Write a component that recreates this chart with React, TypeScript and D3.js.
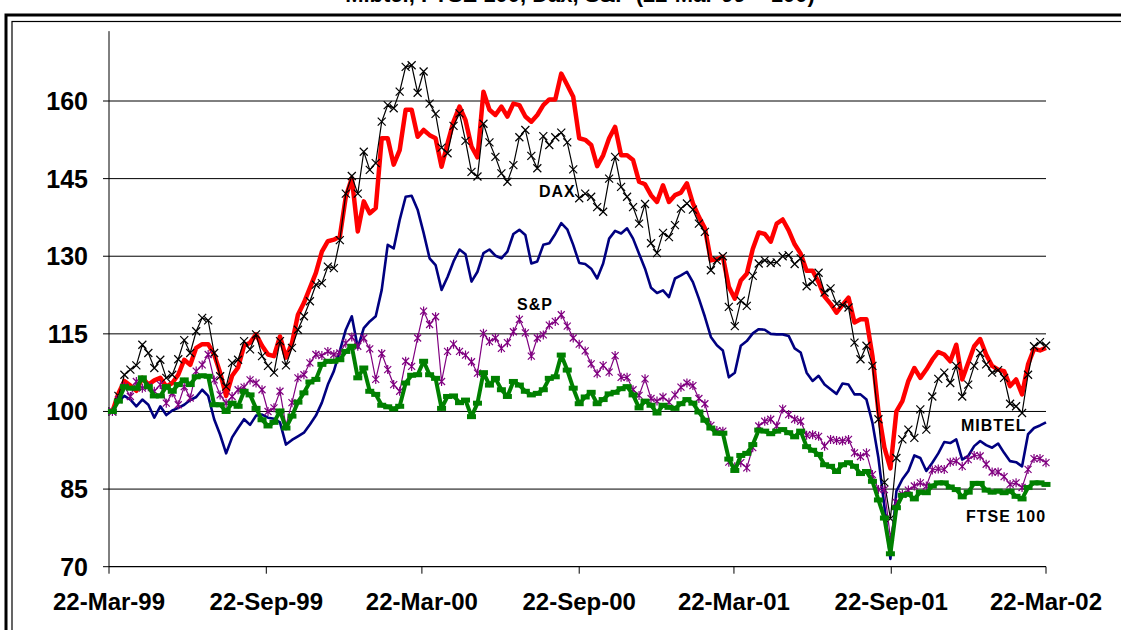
import * as d3 from "d3";

// weekly closes, rebased 22-Mar-99 = 100 (first Friday after the base date)
const firstWeek = new Date(1999, 2, 26);

const tickDates = [
  new Date(1999, 2, 22),
  new Date(1999, 8, 22),
  new Date(2000, 2, 22),
  new Date(2000, 8, 22),
  new Date(2001, 2, 22),
  new Date(2001, 8, 22),
  new Date(2002, 2, 22),
];
const tickLabels = ["22-Mar-99", "22-Sep-99", "22-Mar-00", "22-Sep-00", "22-Mar-01", "22-Sep-01", "22-Mar-02"];
const yTicks = [70, 85, 100, 115, 130, 145, 160];

// red, no label in the picture
const cac = [
  100, 103.5, 105.9, 105.0, 104.0, 106.5, 105.2, 106.0, 106.5, 104.8, 105.5, 107.1, 110.0, 109.0, 112.3, 113.0, 113.0, 111.0, 107.5, 103.0, 106.9, 108.5, 112.7, 113.3, 114.9, 112.7, 111.0,
  110.7, 114.5, 110.4, 113.2, 118.7, 121.0, 123.9, 126.8, 130.9, 132.9, 133.2, 133.8, 141.5, 145.1, 134.8, 140.6, 138.3, 139.3, 152.8, 152.8, 147.7, 150.5, 158.3, 158.3, 153.1, 154.4,
  153.4, 152.8, 147.3, 151.8, 156.0, 158.9, 156.3, 151.2, 149.1, 161.8, 158.3, 157.3, 158.9, 157.0, 159.5, 159.2, 157.0, 156.0, 157.3, 159.2, 160.3, 160.3, 165.3, 163.1, 160.8, 152.8,
  152.5, 151.5, 147.4, 149.5, 152.8, 155.0, 149.5, 149.5, 148.6, 144.4, 143.9, 141.8, 140.5, 143.7, 140.5, 141.8, 142.3, 144.1, 140.2, 137.6, 135.4, 129.2, 129.4, 129.9, 124.1, 121.8,
  125.3, 126.6, 131.4, 134.6, 134.3, 132.8, 136.3, 137.1, 135.0, 132.3, 130.5, 127.2, 127.2, 125.0, 122.2, 120.8, 119.1, 120.6, 122.0, 117.2, 117.8, 117.8, 110.7, 100.0, 93.0, 89.0,
  100.0, 102.0, 105.9, 108.4, 106.5, 108.1, 110.0, 111.5, 111.0, 109.7, 112.9, 106.2, 109.4, 112.6, 114.0, 111.0, 108.8, 108.1, 107.8, 104.9, 106.2, 103.3, 109.1, 112.1, 111.8, 112.3,
];

const dax = [
  100, 103.0, 107.1, 108.1, 108.9, 112.9, 111.3, 108.4, 110.0, 106.5, 107.1, 110.1, 113.8, 111.3, 115.5, 118.1, 117.6, 111.3, 106.8, 104.8, 109.4, 110.0, 113.6, 112.0, 114.9, 110.7, 108.8,
  107.5, 113.6, 108.9, 112.3, 115.8, 118.4, 121.3, 124.5, 124.8, 128.0, 127.7, 133.1, 142.1, 145.5, 142.1, 150.2, 146.7, 148.0, 156.0, 159.2, 158.6, 161.8, 166.6, 166.9, 161.6, 165.7,
  159.5, 157.5, 151.0, 149.9, 155.2, 157.6, 152.3, 146.3, 145.4, 155.6, 152.0, 149.2, 146.0, 144.4, 147.6, 153.0, 154.4, 149.4, 147.0, 153.2, 151.5, 153.0, 153.9, 152.0, 146.8, 141.2,
  142.1, 141.5, 139.5, 138.6, 145.0, 149.2, 143.4, 141.5, 139.5, 136.3, 140.1, 132.5, 130.6, 134.5, 133.7, 136.0, 139.2, 140.2, 139.0, 136.3, 134.7, 127.3, 129.2, 130.0, 120.2, 116.5,
  121.4, 120.4, 126.2, 128.6, 129.2, 128.7, 128.8, 130.0, 130.2, 128.5, 129.6, 124.2, 125.0, 126.8, 123.0, 123.8, 120.8, 120.6, 120.1, 113.3, 110.1, 112.7, 108.8, 98.5, 86.3, 79.3,
  91.0, 94.6, 96.5, 94.9, 100.4, 96.5, 102.9, 106.3, 107.5, 105.5, 108.8, 102.9, 105.2, 108.8, 111.3, 109.1, 107.5, 108.0, 106.5, 101.5, 101.0, 99.7, 107.1, 112.6, 113.4, 112.7,
];

const mibtel = [
  100, 102.0, 103.0, 102.3, 101.0, 102.3, 101.3, 98.8, 101.0, 99.3, 100.2, 100.7, 101.3, 102.2, 102.8, 104.2, 103.0, 98.5, 95.5, 91.9, 95.0, 96.8, 98.5, 97.4, 99.2, 99.4, 98.8,
  98.6, 97.9, 93.6, 94.5, 95.2, 95.9, 97.5, 99.2, 101.7, 105.2, 107.8, 111.7, 115.8, 118.4, 112.3, 116.1, 117.4, 118.4, 123.5, 132.2, 131.5, 137.0, 141.5, 141.7, 139.0, 134.5,
  129.6, 128.3, 123.5, 126.0, 129.0, 131.3, 130.4, 125.1, 127.0, 130.6, 131.3, 130.1, 129.6, 130.9, 134.3, 135.1, 134.1, 128.6, 129.0, 132.2, 132.5, 134.3, 136.4, 135.2, 132.2, 128.7,
  128.5, 127.6, 125.7, 128.6, 133.4, 134.9, 134.4, 135.4, 133.4, 130.5, 127.6, 123.9, 122.9, 123.4, 122.1, 125.7, 126.3, 127.0, 125.0, 121.8, 118.3, 114.4, 112.8, 111.8, 106.6, 107.5,
  112.7, 113.6, 115.1, 115.9, 115.8, 115.0, 114.9, 114.9, 114.6, 112.2, 111.4, 107.5, 105.9, 106.9, 105.2, 104.3, 103.4, 105.4, 105.2, 103.3, 103.3, 102.3, 97.8, 91.0, 81.6, 71.5,
  84.6, 86.9, 88.5, 91.5, 91.0, 88.5, 90.1, 91.9, 94.1, 93.9, 94.6, 90.7, 91.4, 93.3, 94.3, 93.5, 93.0, 93.8, 92.0, 90.4, 90.2, 89.4, 95.6, 96.8, 97.3, 97.9,
];

const sp = [
  100, 102.3, 104.8, 102.9, 105.8, 104.5, 104.8, 103.9, 105.2, 101.6, 103.6, 101.3, 104.8, 102.6, 107.8, 109.0, 111.0, 106.1, 103.2, 101.6, 102.9, 104.2, 104.7, 106.1, 105.5, 104.2, 100.0,
  100.7, 103.9, 97.2, 101.7, 106.5, 107.1, 109.4, 111.0, 110.8, 111.6, 111.0, 111.3, 113.2, 114.4, 112.6, 114.2, 112.1, 106.2, 111.2, 108.1, 105.2, 103.9, 109.7, 108.7, 114.2, 119.4,
  116.8, 118.3, 105.8, 111.6, 113.0, 111.6, 110.9, 109.6, 107.4, 115.1, 113.5, 114.2, 112.2, 113.3, 115.4, 117.8, 115.2, 110.7, 114.2, 114.8, 116.7, 117.4, 118.7, 116.5, 114.2, 113.0,
  111.7, 109.2, 107.3, 108.9, 107.6, 110.8, 106.6, 106.6, 104.2, 103.1, 106.3, 102.5, 102.0, 102.8, 101.8, 103.2, 104.7, 105.5, 105.0, 102.5, 101.5, 97.3, 96.3, 96.2, 90.2, 89.3,
  90.1, 89.1, 93.0, 97.2, 98.1, 98.5, 97.2, 100.5, 99.4, 98.5, 98.1, 95.4, 95.5, 95.2, 93.3, 94.6, 94.4, 94.3, 94.6, 92.0, 91.3, 92.0, 87.8, 84.9, 84.9, 75.6,
  82.4, 84.0, 84.8, 85.6, 86.2, 85.6, 88.7, 88.9, 88.8, 90.2, 90.4, 89.4, 90.7, 91.5, 91.4, 89.8, 88.3, 88.3, 87.4, 85.9, 86.2, 85.3, 88.8, 90.9, 90.9, 90.1,
];

const ftse = [
  100, 102.0, 104.8, 104.5, 104.5, 106.5, 104.8, 103.0, 103.0, 104.8, 103.9, 105.2, 106.1, 105.2, 106.7, 106.9, 106.8, 101.3, 101.3, 100.0, 101.6, 101.0, 103.9, 103.2, 100.6, 98.4, 97.2,
  97.9, 100.1, 96.8, 99.1, 101.8, 103.6, 105.7, 106.2, 109.1, 109.7, 109.7, 110.0, 111.6, 112.6, 106.5, 108.4, 103.9, 103.3, 101.2, 100.9, 100.5, 101.0, 105.5, 107.0, 107.1, 109.7,
  107.1, 106.4, 100.6, 102.9, 103.0, 101.7, 102.2, 99.0, 101.6, 107.5, 105.1, 106.4, 104.2, 102.9, 105.8, 105.1, 103.9, 103.2, 103.5, 104.2, 106.4, 106.7, 110.9, 108.0, 104.5, 101.5,
  102.8, 103.7, 101.5, 102.3, 103.4, 103.7, 104.4, 104.8, 103.2, 100.7, 102.0, 101.2, 99.7, 101.2, 100.8, 100.6, 101.5, 102.3, 101.6, 99.9, 98.3, 96.8, 95.8, 95.8, 90.8, 88.6,
  91.5, 91.9, 93.6, 96.4, 96.2, 95.7, 96.2, 96.5, 95.9, 95.1, 96.2, 93.2, 92.5, 91.7, 89.7, 89.4, 88.4, 89.7, 90.1, 89.4, 88.0, 88.4, 86.5, 82.9, 79.4, 72.5,
  81.4, 83.8, 84.0, 83.1, 84.4, 84.3, 85.6, 86.2, 86.2, 85.4, 84.9, 83.5, 84.4, 86.1, 86.1, 84.8, 84.4, 84.6, 84.3, 84.6, 83.6, 83.1, 85.3, 86.2, 86.2, 85.9,
];

const WIDTH = 1121;
const HEIGHT = 630;
const plot = { left: 109, right: 1046, top: 101, bottom: 566.7 };

const xScale = d3.scaleTime().domain([tickDates[0], tickDates[tickDates.length - 1]]).range([plot.left, plot.right]);
const yScale = d3.scaleLinear().domain([70, 160]).range([plot.bottom, plot.top]);

const weekDate = (i: number) => d3.timeDay.offset(firstWeek, i * 7);

const lineGen = d3
  .line<number>()
  .x((_, i) => xScale(weekDate(i)))
  .y((d) => yScale(d));

const fontBold = "'Liberation Sans', Arial, sans-serif";
const fontNarrow = "'Liberation Sans Narrow', 'Arial Narrow', 'Liberation Sans', sans-serif";

function Markers({ values, kind, color }: { values: number[]; kind: "x" | "star" | "dash"; color: string }) {
  return (
    <g>
      {values.map((v, i) => {
        const cx = xScale(weekDate(i));
        const cy = yScale(v);
        if (kind === "dash") {
          return <rect key={i} x={cx - 4.5} y={cy - 2.5} width={9} height={5} fill={color} />;
        }
        const d = kind === "x" ? "M-4,-4L4,4M-4,4L4,-4" : "M-3.5,-3.5L3.5,3.5M-3.5,3.5L3.5,-3.5M0,-4.5L0,4.5";
        return <path key={i} d={d} transform={`translate(${cx},${cy})`} stroke={color} strokeWidth={1.2} fill="none" />;
      })}
    </g>
  );
}

export default function App() {
  const labels = [
    { text: "DAX", x: 539, y: 197 },
    { text: "S&P", x: 517, y: 310 },
    { text: "MIBTEL", x: 961, y: 431 },
    { text: "FTSE 100", x: 966, y: 522 },
  ];

  return (
    <svg
      width={WIDTH}
      height={HEIGHT}
      style={{ position: "absolute", left: 0, top: 0, background: "#fff" }}
    >
      <rect width={WIDTH} height={HEIGHT} fill="#fff" />

      {/* title, cut off by the top of the picture */}
      <text x={580} y={2} textAnchor="middle" fontFamily={fontBold} fontWeight="bold" fontSize={22}>
        Mibtel, FTSE 100, Dax, S&amp;P (22-Mar-99 = 100)
      </text>

      {/* double frame */}
      <rect x={6} y={15} width={1300} height={800} fill="none" stroke="#000" strokeWidth={3} />
      <rect x={12} y={21.5} width={1300} height={800} fill="none" stroke="#000" strokeWidth={1.2} />

      {/* gridlines */}
      {yTicks.slice(1).map((t) => (
        <line key={t} x1={plot.left} x2={plot.right} y1={yScale(t)} y2={yScale(t)} stroke="#000" strokeWidth={1} />
      ))}

      {/* axes */}
      <line x1={plot.left} x2={plot.left} y1={yScale(70)} y2={yScale(173.5)} stroke="#000" strokeWidth={1} />
      <line x1={plot.left} x2={plot.right} y1={yScale(70)} y2={yScale(70)} stroke="#000" strokeWidth={1.2} />
      {yTicks.map((t) => (
        <g key={t}>
          <line x1={plot.left - 6} x2={plot.left} y1={yScale(t)} y2={yScale(t)} stroke="#000" />
          <text
            x={88}
            y={yScale(t)}
            dy="0.36em"
            textAnchor="end"
            fontFamily={fontNarrow}
            fontWeight="bold"
            fontSize={25}
          >
            {t}
          </text>
        </g>
      ))}
      {tickDates.map((d, i) => (
        <g key={i}>
          <line x1={xScale(d)} x2={xScale(d)} y1={yScale(70)} y2={yScale(70) + 7} stroke="#000" />
          <text
            x={xScale(d)}
            y={610}
            textAnchor="middle"
            fontFamily={fontNarrow}
            fontWeight="bold"
            fontSize={24}
          >
            {tickLabels[i]}
          </text>
        </g>
      ))}

      {/* series */}
      <path d={lineGen(mibtel) ?? ""} fill="none" stroke="#000080" strokeWidth={2.6} strokeLinejoin="round" />
      <path d={lineGen(cac) ?? ""} fill="none" stroke="#ff0000" strokeWidth={4.5} strokeLinejoin="round" />
      <path d={lineGen(dax) ?? ""} fill="none" stroke="#000" strokeWidth={1.2} />
      <Markers values={dax} kind="x" color="#000" />
      <path d={lineGen(sp) ?? ""} fill="none" stroke="#800080" strokeWidth={1.2} />
      <Markers values={sp} kind="star" color="#800080" />
      <path d={lineGen(ftse) ?? ""} fill="none" stroke="#008000" strokeWidth={4} strokeLinejoin="round" />
      <Markers values={ftse} kind="dash" color="#008000" />

      {labels.map((l) => (
        <text
          key={l.text}
          x={l.x}
          y={l.y}
          fontFamily={fontBold}
          fontWeight="bold"
          fontSize={16}
          letterSpacing={1}
        >
          {l.text}
        </text>
      ))}
    </svg>
  );
}
